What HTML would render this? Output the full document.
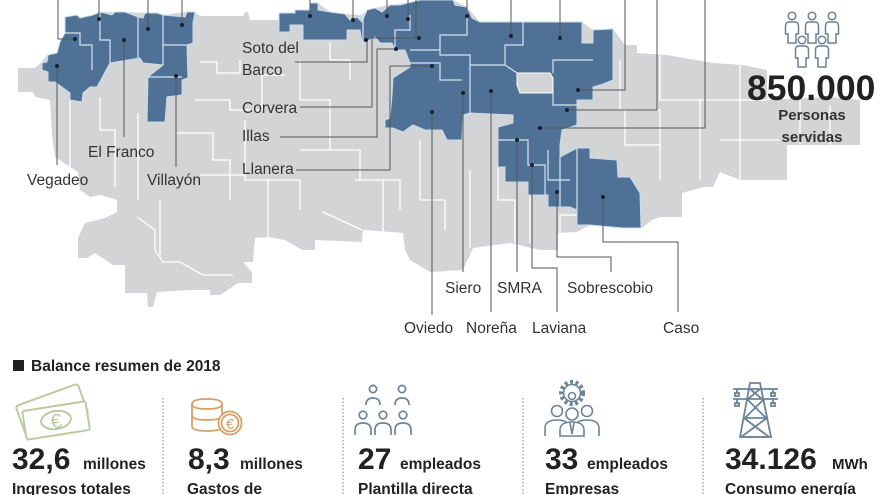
<!DOCTYPE html>
<html><head><meta charset="utf-8"><style>
html,body{margin:0;padding:0;background:#fff;}
svg{display:block;}
text{font-family:"Liberation Sans",sans-serif;}
</style></head><body>
<svg width="880" height="495" viewBox="0 0 880 495" xmlns="http://www.w3.org/2000/svg">
<rect width="880" height="495" fill="#fff"/>
<!-- gray silhouette -->
<polygon fill="#d3d4d6" points="18,68 35,68 42,62 47,55 57,53 60,42 65,33 65,17 80,18 93,15 100,12 115,12 125,12 145,13 163,15 187,12 195,12 200,16 243,16 245,12 248,12 250,20 279,20 279,13 295,13 295,10 310,10 310,3 318,3 330,12 345,14 360,15 375,8 390,5 405,3 420,0 453,0 467,7 480,22 582,22 593,30 613,28 615,32 625,45 637,45 637,53 667,55 713,63 743,65 767,70 767,100 833,97 860,100 860,145 787,145 787,180 762,180 740,180 720,172 713,187 703,187 682,193 682,217 660,217 652,220 642,228 623,228 590,225 577,232 558,233 558,250 540,250 510,243 473,248 463,270 430,272 410,260 405,250 403,233 392,232 363,230 362,242 315,240 315,250 302,250 285,240 268,237 255,238 253,262 243,262 252,272 252,283 238,283 220,295 210,295 210,290 190,290 157,292 153,307 148,307 147,293 125,293 125,265 113,265 95,253 87,258 78,258 78,238 85,223 105,218 117,212 117,200 100,195 90,197 80,190 78,172 67,165 55,157 52,135 50,100 35,97 33,92 18,92"/>
<!-- white borders in gray -->
<path fill="none" stroke="#fff" stroke-width="1.3" d="M70,100 V167 M100,97 V130 H115 V187 M138,113 V200 M177,133 H213 V160 H230 V200 M200,62 H217 V73 H240 V60 M195,100 H230 V110 H262 V75 H285 M137,217 L155,230 V250 L163,262 H180 L203,275 H233 M268,180 V237 M323,212 L362,230 M383,180 V233 M245,120 V180 H300 V210 M300,60 V100 H330 V150 H360 V180 M330,42 V60 H350 V80 M420,140 V200 H445 V230 M470,170 V248 M498,167 V200 H515 V243 M530,195 V243 M600,110 H660 V180 M625,110 V145 H660 M660,55 V100 H700 V180 M700,100 H767 M720,140 H780 M740,63 V120 M355,180 H400 V210 M200,175 H245 M160,200 V255 M300,150 H330 M560,233 V215 H600 V232 M620,110 V60 M800,100 V145 M830,105 V145 M740,113 V180"/>
<!-- blue areas -->
<g fill="#4f7196" stroke="#c9dcec" stroke-width="1">
<polygon points="42,63 47,62 48,55 57,53 60,42 65,33 65,17 77,15 80,18 93,15 100,12 112,15 115,12 125,12 138,17 143,18 145,13 157,13 163,15 185,17 187,12 195,12 193,23 193,43 187,45 188,78 182,80 182,95 167,97 165,122 147,122 148,77 163,65 143,63 140,58 110,63 97,87 90,87 83,93 82,102 70,100 70,93 55,82 48,82 48,72 42,70"/>
<polygon points="279,13 295,13 295,10 310,10 310,3 318,3 318,10 330,12 345,14 350,20 357,17 362,22 367,10 375,8 382,12 390,5 400,5 408,3 420,0 453,0 455,5 467,7 472,18 480,22 582,22 582,43 593,43 593,30 613,29 613,80 603,84 593,87 593,100 577,100 577,125 562,130 560,145 560,157 577,148 590,148 590,158 617,160 618,177 630,177 640,193 641,228 623,228 590,225 577,225 577,210 570,207 548,207 548,195 528,195 528,182 505,182 505,167 498,167 498,127 513,123 513,115 470,113 463,115 462,140 447,140 442,130 425,130 413,125 403,132 393,128 385,128 385,120 390,118 392,95 393,78 410,67 410,63 405,50 395,50 392,43 380,43 375,37 366,42 362,42 360,30 347,30 347,40 303,40 303,25 290,25 290,32 279,32"/>
</g>
<polygon fill="#d3d4d6" stroke="#fff" stroke-width="1" points="517,73 550,73 553,78 553,93 520,93 517,85"/>
<!-- white borders in blue -->
<path fill="none" stroke="#d6e4f0" stroke-width="1.2" d="M65,33 H80 V45 H92 V70 M100,12 V40 H110 V63 M138,17 V58 M163,15 V65 M148,77 H182 M163,45 H187 M363,14 V42 M395,50 V30 H410 V15 M410,50 H440 V35 H467 V7 M440,35 V55 H470 V65 H505 V45 H523 V22 M470,65 V113 M505,65 L517,73 M553,73 V60 H593 M553,93 V105 H577 M498,140 H528 V165 H545 V195 M548,150 V180 H570 M577,148 V210 M560,157 V207 M410,63 H440 V80 H462"/>
<!-- leader lines -->
<path fill="none" stroke="#555" stroke-width="1" d="M58,0 V39 H75 M99,0 V19 M148,0 V29 M182,0 V25 M57,66 V165 M124,40 V137 M176,76 V167 M310,0 V16 M353,0 V20 M387,0 V16 M408,0 V19 M416,0 V38 M467,0 V16 M511,0 V36 M560,0 V38 M625,0 V90 H578 M657,0 V110 H567 M705,0 V128 H540 M295,62 H367 V40 M300,107 H372 V38 H419 M280,137 H377 V49 H396 M296,170 H390 V66 H432 M432,112 V315 M463,93 V272 M491,91 V312 M517,140 V272 M532,165 V268 H557 V312 M557,192 V257 H611 V272 M603,197 V242 H678 V312"/>
<g fill="#16222f">
<circle cx="75" cy="39" r="2"/><circle cx="99" cy="19" r="2"/><circle cx="148" cy="29" r="2"/><circle cx="182" cy="25" r="2"/><circle cx="57" cy="66" r="2"/><circle cx="124" cy="40" r="2"/><circle cx="176" cy="76" r="2"/>
<circle cx="310" cy="16" r="2"/><circle cx="353" cy="20" r="2"/><circle cx="387" cy="16" r="2"/><circle cx="408" cy="19" r="2"/><circle cx="467" cy="16" r="2"/><circle cx="511" cy="36" r="2"/><circle cx="560" cy="38" r="2"/><circle cx="578" cy="90" r="2"/><circle cx="567" cy="110" r="2"/><circle cx="540" cy="128" r="2"/><circle cx="366" cy="40" r="2"/><circle cx="419" cy="38" r="2"/><circle cx="396" cy="49" r="2"/><circle cx="432" cy="66" r="2"/><circle cx="432" cy="112" r="2"/><circle cx="463" cy="93" r="2"/><circle cx="491" cy="91" r="2"/><circle cx="517" cy="140" r="2"/><circle cx="532" cy="165" r="2"/><circle cx="557" cy="192" r="2"/><circle cx="603" cy="197" r="2"/>
</g>
<!-- map labels -->
<g font-size="15.5" fill="#333">
<text x="27" y="185">Vegadeo</text>
<text x="88" y="157">El Franco</text>
<text x="147" y="185">Villayón</text>
<text x="242" y="53">Soto del</text>
<text x="242" y="75">Barco</text>
<text x="242" y="113">Corvera</text>
<text x="242" y="141">Illas</text>
<text x="242" y="174">Llanera</text>
<text x="445" y="293">Siero</text>
<text x="497" y="293">SMRA</text>
<text x="567" y="293">Sobrescobio</text>
<text x="404" y="333">Oviedo</text>
<text x="466" y="333">Noreña</text>
<text x="532" y="333">Laviana</text>
<text x="663" y="333">Caso</text>
</g>
<!-- persons icon top right -->
<g fill="#fff" stroke="#6b8296" stroke-width="1.5">
<g transform="translate(792,16)"><path d="M-4,27 V18 H-6.5 V10 Q-6.5,6 -3,6 H3 Q6.5,6 6.5,10 V18 H4 V27 Z"/><circle r="3.8"/></g>
<g transform="translate(812,16)"><path d="M-4,27 V18 H-6.5 V10 Q-6.5,6 -3,6 H3 Q6.5,6 6.5,10 V18 H4 V27 Z"/><circle r="3.8"/></g>
<g transform="translate(832,16)"><path d="M-4,27 V18 H-6.5 V10 Q-6.5,6 -3,6 H3 Q6.5,6 6.5,10 V18 H4 V27 Z"/><circle r="3.8"/></g>
<g transform="translate(802,40)"><path d="M-4,27 V18 H-6.5 V10 Q-6.5,6 -3,6 H3 Q6.5,6 6.5,10 V18 H4 V27 Z"/><circle r="3.8"/></g>
<g transform="translate(822,40)"><path d="M-4,27 V18 H-6.5 V10 Q-6.5,6 -3,6 H3 Q6.5,6 6.5,10 V18 H4 V27 Z"/><circle r="3.8"/></g>
</g>
<text x="747" y="100" font-size="35.5" font-weight="bold" fill="#222">850.000</text>
<text x="812" y="120" font-size="15" font-weight="bold" fill="#333" text-anchor="middle">Personas</text>
<text x="812" y="142" font-size="15" font-weight="bold" fill="#333" text-anchor="middle">servidas</text>
<!-- bottom section -->
<rect x="13" y="360" width="11" height="11" fill="#222"/>
<text x="31" y="371" font-size="15.5" font-weight="bold" fill="#222">Balance resumen de 2018</text>
<g stroke="#777" stroke-width="1" stroke-dasharray="1.5,2">
<line x1="163" y1="398" x2="163" y2="495"/><line x1="343" y1="398" x2="343" y2="495"/><line x1="523" y1="398" x2="523" y2="495"/><line x1="703" y1="398" x2="703" y2="495"/>
</g>
<!-- money icon -->
<g fill="#fff" stroke="#b9cca0" stroke-width="2">
<g transform="translate(52,410) rotate(-20)"><rect x="-33" y="-16" width="66" height="32" rx="3"/></g>
<g transform="translate(56,420) rotate(-9)"><rect x="-32" y="-14" width="64" height="29" rx="2"/><ellipse rx="15" ry="9"/></g>
<text x="56" y="428" font-size="20" fill="#b9cca0" stroke="none" text-anchor="middle" transform="rotate(-9 56 420)">€</text>
</g>
<!-- coins icon -->
<g fill="#fff" stroke="#d8a066" stroke-width="1.8">
<path d="M192,404 Q192,399 207,399 Q222,399 222,404 V426 Q222,431 207,431 Q192,431 192,426 Z"/>
<path d="M192,404 Q192,409 207,409 Q222,409 222,404 M192,415 Q192,420 207,420 Q222,420 222,415"/>
<circle cx="230" cy="423" r="11.5"/><circle cx="230" cy="423" r="8.5"/>
<text x="230" y="429" font-size="15" fill="#d8a066" stroke="none" text-anchor="middle">€</text>
</g>
<!-- team icon -->
<g fill="none" stroke="#6b8499" stroke-width="1.7">
<circle cx="373" cy="389" r="3.6"/><circle cx="402" cy="389" r="3.6"/>
<path d="M366,405 Q366,398 373,398 Q380,398 380,405 M395,405 Q395,398 402,398 Q409,398 409,405"/>
<circle cx="363" cy="415" r="3.8"/><circle cx="383" cy="415" r="3.8"/><circle cx="403" cy="415" r="3.8"/>
<path d="M355,435 V430 Q355,423 363,423 Q371,423 371,430 V435 M375,435 V430 Q375,423 383,423 Q391,423 391,430 V435 M395,435 V430 Q395,423 403,423 Q411,423 411,430 V435"/>
</g>
<!-- gear people icon -->
<g fill="#fff" stroke="#6b8499" stroke-width="1.6">
<circle cx="572" cy="393" r="11" stroke-width="4" stroke-dasharray="3,2.5"/>
<circle cx="572" cy="393" r="8.5"/>
<circle cx="572" cy="396" r="3.5"/>
<circle cx="557" cy="411" r="5.5"/><circle cx="587" cy="411" r="5.5"/>
<path d="M545,436 V428 Q545,420 557,420 Q569,420 569,428 V436 M575,436 V428 Q575,420 587,420 Q599,420 599,428 V436"/>
<circle cx="572" cy="414" r="6"/>
<path d="M560,436 V430 Q560,422 572,422 Q584,422 584,430 V436 Z M570,423 L572,434 L574,423"/>
</g>
<!-- pylon -->
<g fill="none" stroke="#6b8499" stroke-width="1.8">
<path d="M750,383 H760 L771,437 H740 Z"/>
<path d="M733,389 H778 M733,399 H778 M740,437 H771"/>
<path d="M750,389 L762,399 M760,389 L748,399 M747,399 L766,418 M764,399 L745,418 M744,418 L769,437 M767,418 L741,437 M745,418 H766"/>
<path d="M737,389 V394 M773,389 V394 M737,399 V404 M773,399 V404"/>
<rect x="735" y="393" width="4" height="3"/><rect x="771" y="393" width="4" height="3"/><rect x="735" y="403" width="4" height="3"/><rect x="771" y="403" width="4" height="3"/>
</g>
<!-- stats text -->
<g fill="#222">
<text x="12" y="469" font-size="30" font-weight="bold">32,6</text>
<text x="83" y="469" font-size="15.5" font-weight="bold">millones</text>
<text x="12" y="494" font-size="15.5" font-weight="bold">Ingresos totales</text>
<text x="188" y="469" font-size="30" font-weight="bold">8,3</text>
<text x="240" y="469" font-size="15.5" font-weight="bold">millones</text>
<text x="187" y="494" font-size="15.5" font-weight="bold">Gastos de</text>
<text x="358" y="469" font-size="30" font-weight="bold">27</text>
<text x="400" y="469" font-size="15.5" font-weight="bold">empleados</text>
<text x="358" y="494" font-size="15.5" font-weight="bold">Plantilla directa</text>
<text x="545" y="469" font-size="30" font-weight="bold">33</text>
<text x="587" y="469" font-size="15.5" font-weight="bold">empleados</text>
<text x="545" y="494" font-size="15.5" font-weight="bold">Empresas</text>
<text x="725" y="469" font-size="30" font-weight="bold">34.126</text>
<text x="832" y="469" font-size="15" font-weight="bold">MWh</text>
<text x="725" y="494" font-size="15.5" font-weight="bold">Consumo energía</text>
</g>
</svg>
</body></html>
